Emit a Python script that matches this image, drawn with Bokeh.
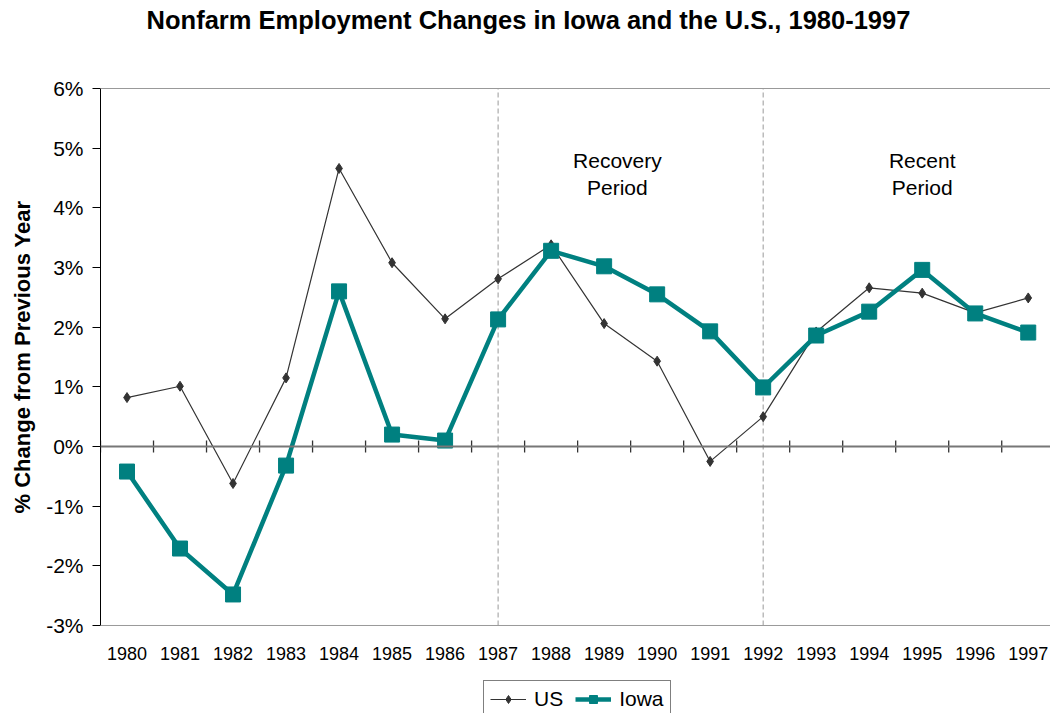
from bokeh.plotting import figure
from bokeh.models import (Span, Label, Legend, LegendItem, FixedTicker,
                          PrintfTickFormatter, Range1d)
from bokeh.embed import file_html
from bokeh.resources import INLINE

years = list(range(1980, 1998))
us = [0.82, 1.01, -0.62, 1.15, 4.66, 3.08, 2.14, 2.81, 3.38, 2.06, 1.43,
      -0.25, 0.50, 1.92, 2.66, 2.57, 2.24, 2.49]
iowa = [-0.42, -1.71, -2.48, -0.32, 2.60, 0.20, 0.10, 2.13, 3.28, 3.02, 2.55,
        1.93, 0.99, 1.86, 2.26, 2.96, 2.23, 1.91]
y_ticks = [-3, -2, -1, 0, 1, 2, 3, 4, 5, 6]
period_lines = [1987, 1992]
title_text = "Nonfarm Employment Changes in Iowa and the U.S., 1980-1997"
y_label = "% Change from Previous Year"

FONT = "'Liberation Sans', Arial, sans-serif"
NARROW = "'Liberation Sans Narrow', 'Arial Narrow', 'Liberation Sans', Arial, sans-serif"
TEAL = "#008080"
US_COL = "#333333"

y_lo, y_hi = y_ticks[0], y_ticks[-1]
# the frame spans the full canvas height; the plot area is -3..6,
# with room above for the title and below for the x labels and legend
p = figure(width=1050, height=713, output_backend="svg", toolbar_location=None,
           x_range=Range1d(years[0] - 0.5, years[-1] + 0.42),
           y_range=Range1d(y_lo - 1.475, y_hi + 1.475),
           min_border_left=100, min_border_right=0,
           min_border_top=0, min_border_bottom=0)
p.outline_line_color = None
p.xgrid.grid_line_color = None
p.ygrid.grid_line_color = None
p.background_fill_color = "white"
p.border_fill_color = "white"

# y axis
yax = p.yaxis[0]
yax.bounds = (y_lo, y_hi)
yax.ticker = FixedTicker(ticks=y_ticks)
yax.formatter = PrintfTickFormatter(format="%d%%")
yax.axis_line_color = "black"
yax.axis_line_width = 1
yax.major_tick_line_color = "black"
yax.major_tick_out = 8
yax.major_tick_in = 0
yax.minor_tick_line_color = None
yax.major_label_text_font = FONT
yax.major_label_text_font_size = "21px"
yax.major_label_text_color = "black"
yax.major_label_standoff = 9
yax.axis_label = y_label
yax.axis_label_text_font = FONT
yax.axis_label_text_font_size = "22px"
yax.axis_label_text_font_style = "bold"
yax.axis_label_text_color = "black"
yax.axis_label_standoff = 8

# x axis, pinned to the bottom of the plot area
xax = p.xaxis[0]
xax.fixed_location = y_lo
xax.ticker = FixedTicker(ticks=years)
xax.axis_line_color = None
xax.major_tick_line_color = None
xax.minor_tick_line_color = None
xax.major_tick_out = 0
xax.major_tick_in = 0
xax.major_label_text_font = NARROW
xax.major_label_text_font_size = "18px"
xax.major_label_text_color = "black"
xax.major_label_standoff = 22

# plot-area top / bottom borders
p.add_layout(Span(location=y_hi, dimension="width", line_color="#999999", line_width=1))
p.add_layout(Span(location=y_lo, dimension="width", line_color="#999999", line_width=1))

# period separators
p.segment(x0=period_lines, y0=[y_lo] * len(period_lines),
          x1=period_lines, y1=[y_hi] * len(period_lines),
          line_color="#999999", line_width=1, line_dash="5 3")

# zero line with category ticks
p.add_layout(Span(location=0, dimension="width", line_color="#777777", line_width=2))
bounds = [y - 0.5 for y in years] + [years[-1] + 0.5]
p.scatter(bounds, [0] * len(bounds), marker="dash", angle=1.5708, size=12,
          line_color="#333333", line_width=1.3)

# series
us_line = p.line(years, us, line_color=US_COL, line_width=1.2)
us_pts = p.scatter(years, us, marker="diamond", size=10, fill_color=US_COL,
                   line_color=US_COL)
ia_line = p.line(years, iowa, line_color=TEAL, line_width=4.5)
ia_pts = p.scatter(years, iowa, marker="square", size=15, fill_color=TEAL,
                   line_color=TEAL)

# period annotations
for xx, lines in [(1989.25, ["Recovery", "Period"]), (1995.0, ["Recent", "Period"])]:
    for i, t in enumerate(lines):
        p.add_layout(Label(x=xx, y=4.79 - i * 0.452, text=t, text_align="center",
                           text_baseline="middle", text_font=FONT,
                           text_font_size="21px", text_color="black"))

# title
p.add_layout(Label(x=428, y=y_hi + 1.14, x_units="screen", text=title_text,
                   text_align="center", text_baseline="middle", text_font=FONT,
                   text_font_size="25.5px", text_font_style="bold",
                   text_color="black"))

legend = Legend(items=[LegendItem(label="US", renderers=[us_line, us_pts]),
                       LegendItem(label="Iowa", renderers=[ia_line, ia_pts])],
                location=(383, -5), orientation="horizontal",
                label_text_font=FONT, label_text_font_size="21px",
                label_text_color="black", glyph_width=36, glyph_height=20,
                label_standoff=8, spacing=12, padding=6, margin=0,
                border_line_color="black", border_line_width=1,
                background_fill_color="white", background_fill_alpha=1.0)
p.add_layout(legend, "center")

open("out.html", "w").write(file_html(p, INLINE))
